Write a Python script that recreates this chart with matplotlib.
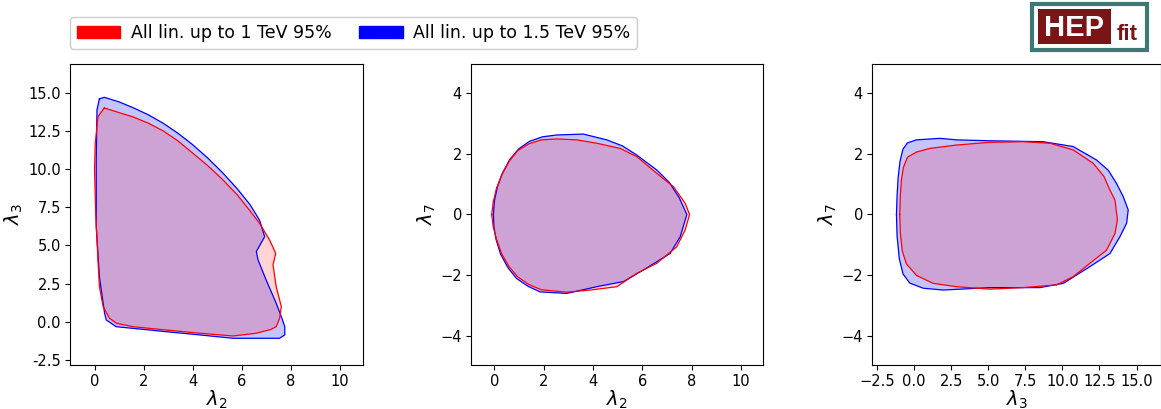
import matplotlib
matplotlib.use("Agg")
import matplotlib.pyplot as plt
from matplotlib.patches import Patch, Rectangle
from matplotlib.ticker import MultipleLocator, FormatStrFormatter

# contour vertices
# panel 1: lambda2 vs lambda3
p1_red_x = [0.40, 1.0, 1.6, 2.2, 2.8, 3.4, 4.0, 4.6, 5.2, 5.8, 6.3, 6.73, 7.14, 7.39, 7.28, 7.41, 7.62, 7.55,
            7.41, 7.2, 6.6, 5.65, 4.29, 2.93, 1.56, 0.9, 0.61, 0.35, 0.2, 0.14, 0.05, 0.0, 0.03, 0.14]
p1_red_y = [14.0, 13.7, 13.4, 13.0, 12.5, 11.85, 11.05, 10.25, 9.35, 8.35, 7.35, 6.45, 5.36, 4.48, 3.72, 2.3, 0.99, 0.23,
            -0.32, -0.5, -0.75, -0.93, -0.75, -0.54, -0.32, -0.1, 0.23, 1.0, 2.3, 4.05, 7.0, 9.94, 11.68, 13.43]
p1_blue_x = [0.2, 0.4, 1.0, 1.6, 2.2, 2.8, 3.4, 4.0, 4.6, 5.2, 5.8, 6.33, 6.73, 6.94, 6.6, 6.67, 7.0, 7.41, 7.62,
             7.76, 7.76, 7.55, 6.73, 5.65, 4.29, 2.93, 1.56, 0.88, 0.48, 0.41, 0.2, 0.07, 0.07, 0.1]
p1_blue_y = [14.6, 14.7, 14.4, 14.0, 13.55, 13.0, 12.35, 11.6, 10.75, 9.8, 8.75, 7.7, 6.66, 5.57, 4.6, 4.05, 2.74, 1.21, 0.34,
             -0.32, -0.86, -1.08, -1.08, -1.08, -0.86, -0.65, -0.43, -0.32, 0.12, 0.56, 2.95, 6.23, 10.6, 13.87]

# panel 2: lambda2 vs lambda7
p2_red_x = [-0.11, -0.05, 0.08, 0.3, 0.6, 0.95, 1.4, 1.9, 2.53, 3.34, 4.15, 5.1, 5.78, 6.59, 7.27, 7.74, 7.92, 7.74,
            7.4, 6.59, 5.78, 4.97, 3.88, 2.94, 1.9, 1.4, 0.95, 0.6, 0.3, 0.08, -0.05]
p2_red_y = [0, 0.4, 0.85, 1.3, 1.75, 2.1, 2.32, 2.45, 2.48, 2.45, 2.34, 2.17, 1.9, 1.35, 0.91, 0.37, 0, -0.51,
            -1.06, -1.6, -1.93, -2.37, -2.48, -2.55, -2.47, -2.3, -2.05, -1.72, -1.3, -0.8, -0.4]
p2_blue_x = [-0.04, 0.0, 0.12, 0.32, 0.62, 0.98, 1.42, 1.95, 2.53, 3.61, 4.56, 5.2, 5.78, 6.59, 7.1, 7.5, 7.81, 7.54,
             7.13, 6.05, 5.24, 4.15, 2.94, 1.85, 1.35, 0.9, 0.55, 0.25, 0.06, -0.02]
p2_blue_y = [0, 0.45, 0.9, 1.35, 1.8, 2.15, 2.4, 2.55, 2.61, 2.64, 2.45, 2.25, 1.95, 1.46, 1.05, 0.55, 0, -0.73,
             -1.28, -1.82, -2.2, -2.37, -2.59, -2.54, -2.35, -2.1, -1.75, -1.3, -0.8, -0.4]

# panel 3: lambda3 vs lambda7
p3_red_x = [-0.97, -0.93, -0.86, -0.72, -0.45, 0.16, 1.06, 2.86, 5.11, 7.36, 9.16, 10.73, 12.08, 12.8, 13.21, 13.55,
            13.71, 13.55, 12.98, 11.86, 10.73, 9.61, 7.36, 5.11, 2.86, 1.28, 0.16, -0.52, -0.8, -0.93]
p3_red_y = [0, 0.6, 1.13, 1.55, 1.88, 2.05, 2.17, 2.28, 2.37, 2.39, 2.34, 2.12, 1.68, 1.25, 0.8, 0.47,
            -0.18, -0.62, -1.17, -1.6, -2.04, -2.31, -2.4, -2.45, -2.37, -2.26, -2.0, -1.62, -1.2, -0.6]
p3_blue_x = [-1.19, -1.15, -1.08, -0.95, -0.75, -0.45, 0.16, 1.73, 2.86, 5.11, 8.7, 10.73, 12.3, 13.1, 13.65, 14.1, 14.44,
             14.33, 13.88, 13.21, 11.86, 10.06, 8.48, 5.11, 1.96, 0.61, -0.3, -0.75, -1.0, -1.15]
p3_blue_y = [0, 0.6, 1.2, 1.75, 2.15, 2.35, 2.45, 2.5, 2.45, 2.42, 2.39, 2.23, 1.79, 1.45, 1.02, 0.59, 0.15,
             -0.29, -0.73, -1.28, -1.71, -2.26, -2.4, -2.4, -2.48, -2.42, -2.25, -1.95, -1.45, -0.7]

labels = ["All lin. up to 1 TeV 95%", "All lin. up to 1.5 TeV 95%"]

W, H = 1161, 409
fig = plt.figure(figsize=(W / 100, H / 100), dpi=100)


def px_axes(left, right, top, bottom):
    return fig.add_axes([left / W, 1 - bottom / H, (right - left) / W, (bottom - top) / H])


def draw_region(ax, xs, ys, color, alpha):
    ax.fill(xs + xs[:1], ys + ys[:1], color=color, alpha=alpha, lw=0)
    ax.plot(xs + xs[:1], ys + ys[:1], color=color, lw=0.9)


panels = [
    (px_axes(70, 363, 64, 365), (p1_blue_x, p1_blue_y), (p1_red_x, p1_red_y),
     r"$\lambda_2$", r"$\lambda_3$", (-1.0, 10.95), (-2.83, 16.88)),
    (px_axes(471, 763, 64, 365), (p2_blue_x, p2_blue_y), (p2_red_x, p2_red_y),
     r"$\lambda_2$", r"$\lambda_7$", (-0.95, 10.9), (-4.94, 4.94)),
    (px_axes(872, 1161, 64, 365), (p3_blue_x, p3_blue_y), (p3_red_x, p3_red_y),
     r"$\lambda_3$", r"$\lambda_7$", (-2.84, 16.65), (-4.94, 4.94)),
]

for ax, blue, red, xl, yl, xlim, ylim in panels:
    draw_region(ax, blue[0], blue[1], "blue", 0.23)
    draw_region(ax, red[0], red[1], "red", 0.17)
    ax.set_xlim(*xlim)
    ax.set_ylim(*ylim)
    ax.set_xlabel(xl, fontsize=14, labelpad=0)
    ax.set_ylabel(yl, fontsize=14, labelpad=2)
    ax.tick_params(labelsize=10.5, pad=3)

# lambda3 axes use 2.5 steps
ax1, ax3 = panels[0][0], panels[2][0]
ax1.yaxis.set_major_locator(MultipleLocator(2.5))
ax1.yaxis.set_major_formatter(FormatStrFormatter("%.1f"))
ax3.xaxis.set_major_locator(MultipleLocator(2.5))
ax3.xaxis.set_major_formatter(FormatStrFormatter("%.1f"))
ax3.set_xticklabels([t.replace("-", "\u2212") for t in ["%.1f" % v for v in ax3.get_xticks()]])

handles = [Patch(facecolor="red", edgecolor="red"), Patch(facecolor="blue", edgecolor="blue")]
fig.legend(handles, labels, loc="upper left", bbox_to_anchor=(70 / W, 1 - 17 / H),
           borderaxespad=0, ncol=2, fontsize=12.5, handlelength=2.5, handletextpad=0.6,
           columnspacing=1.6, framealpha=1)

# HEPfit logo
teal = "#3d7874"
dark_red = "#7b1416"
fig.patches.append(Rectangle((1032 / W, 1 - 50 / H), 115 / W, 46 / H, transform=fig.transFigure,
                             facecolor="white", edgecolor=teal, lw=3))
fig.patches.append(Rectangle((1038 / W, 1 - 44 / H), 73 / W, 35 / H, transform=fig.transFigure,
                             facecolor=dark_red, edgecolor="none"))
fig.text(1074 / W, 1 - 27.5 / H, "HEP", color="white", fontsize=21, fontweight="bold",
         ha="center", va="center", family="Liberation Sans")
fig.text(1127 / W, 1 - 34 / H, "fit", color=dark_red, fontsize=16, fontweight="bold",
         ha="center", va="center", family="Liberation Sans")

fig.savefig("out.png", dpi=100)
